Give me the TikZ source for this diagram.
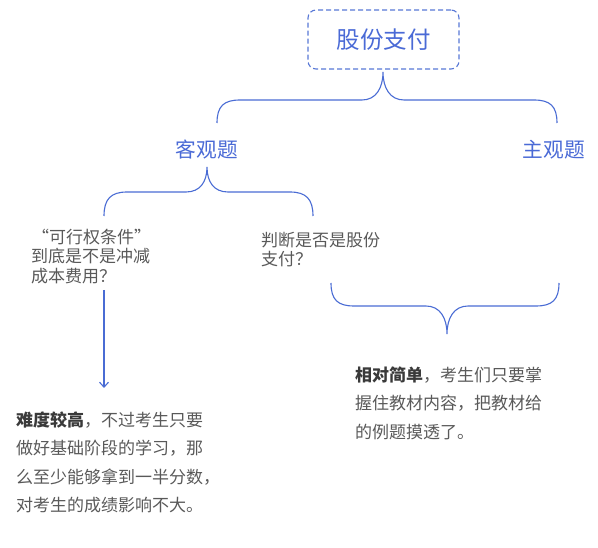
\documentclass[tikz,border=0pt]{standalone}
\usepackage{fontspec}
\setmainfont{Noto Sans CJK SC}
\usetikzlibrary{arrows.meta}
\definecolor{lineblue}{HTML}{4A6CD4}
\definecolor{txtblue}{HTML}{4A6AD6}
\definecolor{boxblue}{HTML}{5878D6}
\definecolor{txtgray}{HTML}{595959}
\definecolor{txtdark}{HTML}{3A3A3A}
\begin{document}
\begin{tikzpicture}[x=1pt,y=-1pt,
  rootbox/.style={draw=boxblue,line width=1.1pt,dash pattern=on 5pt off 3pt,rounded corners=8pt,
    minimum width=151pt,minimum height=59pt,text=txtblue,font=\fontsize{23.5}{28}\selectfont,inner sep=0pt},
  level/.style={text=txtblue,font=\fontsize{20.7}{24}\selectfont,inner sep=0pt},
  qtext/.style={text=txtgray,font=\fontsize{17}{19.5}\selectfont,align=left,anchor=north west,inner sep=0pt},
  atext/.style={text=txtgray,font=\fontsize{17}{28.5}\selectfont,align=left,anchor=north west,inner sep=0pt},
  brace/.style={draw=lineblue,line width=1.1pt},
  arr/.style={draw=lineblue,line width=1.1pt,-{Straight Barb[length=5pt,width=9pt,line width=1.1pt]}}
]
\useasboundingbox (0,0) rectangle (598,548);
\node[rootbox] (root) at (383.5,39.5) {股份支付};
\node[level] (obj) at (207,150) {客观题};
\node[level] (subj) at (554,150) {主观题};
\node[qtext] (q1) at (31,228.5) {\hspace*{1pt}“可行权条件”\\到底是不是冲减\\成本费用？};
\node[qtext] (q2) at (261,231.5) {判断是否是股份\\支付？};
\node[atext] (ans1) at (16,411.5) {{\bfseries\color{txtdark}难度较高}，不过考生只要\\做好基础阶段的学习，那\\么至少能够拿到一半分数，\\对考生的成绩影响不大。};
\node[atext] (ans2) at (355,366.5) {{\bfseries\color{txtdark}相对简单}，考生们只要掌\\握住教材内容，把教材给\\的例题摸透了。};
% brace 1
\coordinate (b1tip) at (383,72);
\coordinate (b1l) at (217,123);
\coordinate (b1r) at (557,123);
\draw[brace] (b1l) .. controls (217,106) and (224,100) .. (240,100) -- (362,100)
  .. controls (376,100) and (383,88) .. (b1tip)
  .. controls (383,88) and (390,100) .. (404,100) -- (534,100)
  .. controls (550,100) and (557,106) .. (b1r);
% brace 2
\coordinate (b2tip) at (207,167);
\coordinate (b2l) at (104,216);
\coordinate (b2r) at (313,216);
\draw[brace] (b2l) .. controls (104,199) and (111,192) .. (127,192) -- (186,192)
  .. controls (200,192) and (207,182) .. (b2tip)
  .. controls (207,182) and (214,192) .. (228,192) -- (290,192)
  .. controls (306,192) and (313,199) .. (b2r);
% brace 3
\coordinate (b3tip) at (447,334);
\coordinate (b3l) at (331,283);
\coordinate (b3r) at (559,283);
\draw[brace] (b3l) .. controls (331,300) and (338,306) .. (354,306) -- (426,306)
  .. controls (440,306) and (447,318) .. (b3tip)
  .. controls (447,318) and (454,306) .. (468,306) -- (536,306)
  .. controls (552,306) and (559,300) .. (b3r);
% arrow
\coordinate (a1) at (104,290);
\coordinate (a2) at (104,388);
\draw[arr] (a1) -- (a2);
\end{tikzpicture}
\end{document}
